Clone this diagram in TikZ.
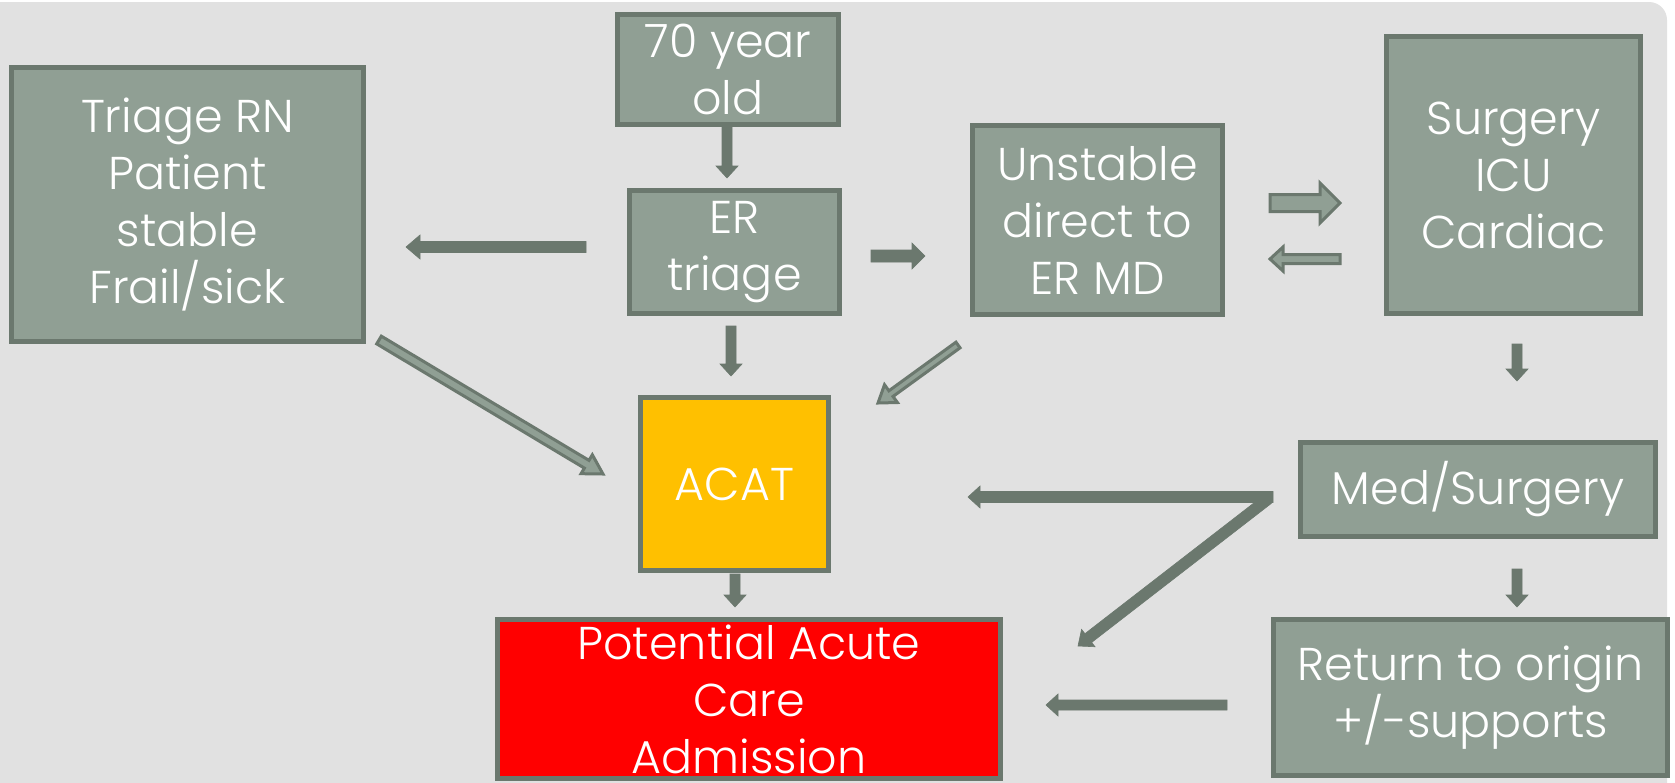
\documentclass[tikz,border=0pt]{standalone}
\usepackage{fontspec}
\setmainfont{Poppins}[UprightFont={* Light}]
\usetikzlibrary{calc}

\definecolor{slidebg}{HTML}{E1E1E1}
\definecolor{boxfill}{HTML}{909F94}
\definecolor{boxedge}{HTML}{6B786E}
\definecolor{acatfill}{HTML}{FFC000}
\definecolor{admitfill}{HTML}{FF0000}

% block arrow: #1 style, #2 tail, #3 tip, #4 shaft half width, #5 head half width, #6 head length
\newcommand\blockarrow[6]{%
  \draw[#1] ($(#2)!#4!90:(#3)$)
    -- ($(#3)!#6!(#2)!#4!-90:(#2)$)
    -- ($(#3)!#6!(#2)!#5!-90:(#2)$)
    -- (#3)
    -- ($(#3)!#6!(#2)!#5!90:(#2)$)
    -- ($(#3)!#6!(#2)!#4!90:(#2)$)
    -- ($(#2)!#4!-90:(#3)$) -- cycle;}

\begin{document}
\begin{tikzpicture}[x=1pt,y=-1pt,
  box/.style={draw=boxedge, fill=boxfill, line width=5pt, text=white,
    align=center, inner sep=0pt, font=\fontsize{46}{57}\selectfont},
  solidarrow/.style={fill=boxedge, draw=boxedge, line width=0.6pt, line join=miter},
  hollowarrow/.style={fill=boxfill, draw=boxedge, line width=3pt, line join=miter}]

\useasboundingbox (0,0) rectangle (1675,782);
\clip (0,0) rectangle (1675,782);
\fill[white] (0,0) rectangle (1675,782);
\fill[slidebg, rounded corners=18pt] (-40,2) rectangle (1667,830);

% boxes
\node[box, minimum width=221, minimum height=110] (old) at (728,69.5) {70 year\\old};
\node[box, minimum width=352, minimum height=274] (rn) at (187.5,204.5) {Triage RN\\Patient\\stable\\Frail/sick};
\node[box, minimum width=210, minimum height=123] (er) at (734.5,252) {ER\\triage};
\node[box, minimum width=250, minimum height=189] (unst) at (1097.5,220) {Unstable\\direct to\\ER MD};
\node[box, minimum width=254, minimum height=277] (surg) at (1513.5,175) {Surgery\\ICU\\Cardiac};
\node[box, fill=acatfill, minimum width=188, minimum height=173] (acat) at (734.5,484) {ACAT};
\node[box, minimum width=355, minimum height=94] (med) at (1478,489.5) {Med/Surgery};
\node[box, fill=admitfill, minimum width=503, minimum height=159] (admit) at (749,699) {Potential Acute\\Care\\Admission};
\node[box, minimum width=394, minimum height=156] (ret) at (1470.5,697.5) {Return to origin\\+/-supports};

% arrow end points
\coordinate (a1s) at (727,124);  \coordinate (a1t) at (727,178);
\coordinate (a2s) at (586,247);  \coordinate (a2t) at (406,247);
\coordinate (a3s) at (871,256);  \coordinate (a3t) at (925,256);
\coordinate (a4s) at (731,326);  \coordinate (a4t) at (731,376);
\coordinate (a5s) at (379,340);  \coordinate (a5t) at (603,474);
\coordinate (a6s) at (958,345);  \coordinate (a6t) at (878,403);
\coordinate (a7s) at (1270,203); \coordinate (a7t) at (1340,203);
\coordinate (a8s) at (1340,259); \coordinate (a8t) at (1270,259);
\coordinate (a9s) at (1517,344); \coordinate (a9t) at (1517,381);
\coordinate (a10s) at (1273,497); \coordinate (a10t) at (968,497);
\coordinate (a11s) at (1268,499); \coordinate (a11t) at (1078,646);
\coordinate (a12s) at (1517,569); \coordinate (a12t) at (1517,607);
\coordinate (a13s) at (1227,705); \coordinate (a13t) at (1046,705);
\coordinate (a14s) at (735,574);  \coordinate (a14t) at (735,607);

% solid arrows
\blockarrow{solidarrow}{a1s}{a1t}{5pt}{11pt}{12pt}
\blockarrow{solidarrow}{a2s}{a2t}{5.5pt}{12pt}{14pt}
\blockarrow{solidarrow}{a3s}{a3t}{6pt}{13pt}{13pt}
\blockarrow{solidarrow}{a4s}{a4t}{5pt}{11pt}{12pt}
\blockarrow{solidarrow}{a9s}{a9t}{5pt}{11pt}{12pt}
\blockarrow{solidarrow}{a10s}{a10t}{5.5pt}{11pt}{12pt}
\blockarrow{solidarrow}{a11s}{a11t}{5.5pt}{11pt}{13pt}
\blockarrow{solidarrow}{a12s}{a12t}{5pt}{11pt}{12pt}
\blockarrow{solidarrow}{a13s}{a13t}{5pt}{11pt}{12pt}
\blockarrow{solidarrow}{a14s}{a14t}{5pt}{11pt}{12pt}

% outlined arrows
\blockarrow{hollowarrow}{a5s}{a5t}{4.5pt}{11pt}{19pt}
\blockarrow{hollowarrow}{a6s}{a6t}{3.5pt}{11pt}{16pt}
\blockarrow{hollowarrow}{a7s}{a7t}{8.5pt}{20pt}{20pt}
\blockarrow{hollowarrow}{a8s}{a8t}{4.5pt}{12pt}{13pt}
\end{tikzpicture}
\end{document}
